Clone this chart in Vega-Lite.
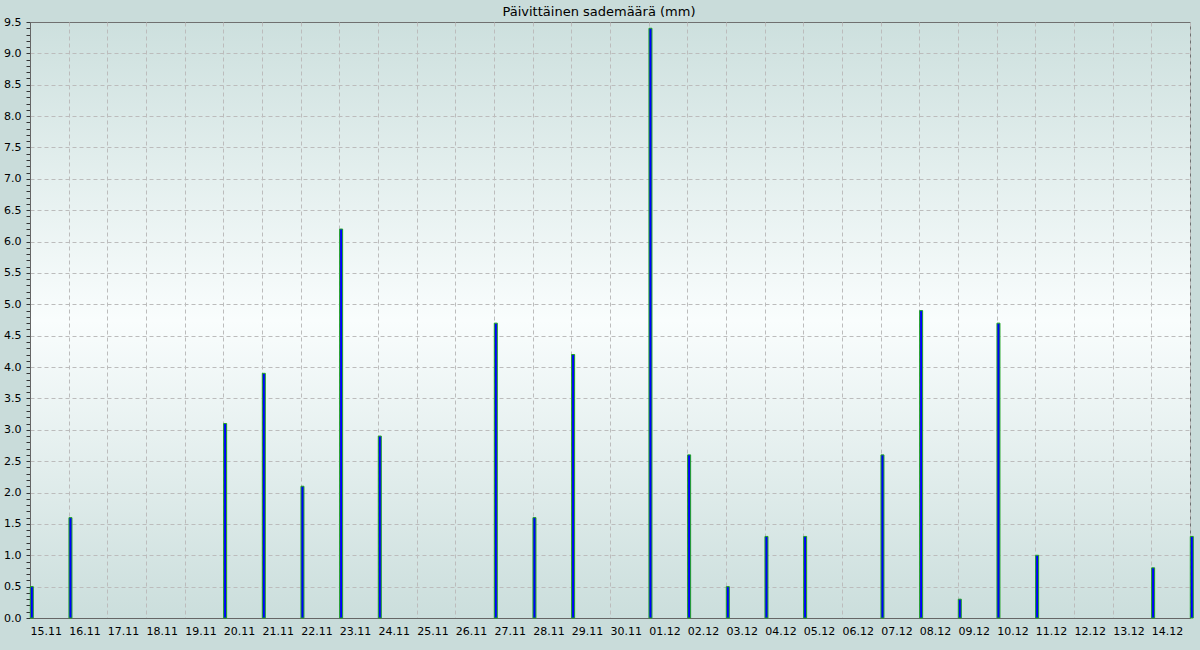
{
  "$schema": "https://vega.github.io/schema/vega-lite/v6.json",
  "width": 1160,
  "height": 596,
  "autosize": {"type": "none"},
  "padding": {"left": 30, "top": 22, "right": 10, "bottom": 32},
  "background": "#c9dcda",
  "view": {
    "fill": {"gradient": "linear", "x1": 0, "y1": 0, "x2": 0, "y2": 1,
      "stops": [
        {"offset": 0, "color": "#cde0de"},
        {"offset": 0.5, "color": "#f9fdfd"},
        {"offset": 1, "color": "#cbdedc"}
      ]},
    "stroke": "#707070",
    "strokeWidth": 1
  },
  "title": {
    "text": "Päivittäinen sademäärä (mm)",
    "font": "DejaVu Sans",
    "fontSize": 13,
    "fontWeight": "normal",
    "color": "#000000",
    "anchor": "middle",
    "dx": -11,
    "offset": -3
  },
  "data": {
    "values": [
      {"date": "2023-11-15", "mm": 0.5},
      {"date": "2023-11-16", "mm": 1.6},
      {"date": "2023-11-20", "mm": 3.1},
      {"date": "2023-11-21", "mm": 3.9},
      {"date": "2023-11-22", "mm": 2.1},
      {"date": "2023-11-23", "mm": 6.2},
      {"date": "2023-11-24", "mm": 2.9},
      {"date": "2023-11-27", "mm": 4.7},
      {"date": "2023-11-28", "mm": 1.6},
      {"date": "2023-11-29", "mm": 4.2},
      {"date": "2023-12-01", "mm": 9.4},
      {"date": "2023-12-02", "mm": 2.6},
      {"date": "2023-12-03", "mm": 0.5},
      {"date": "2023-12-04", "mm": 1.3},
      {"date": "2023-12-05", "mm": 1.3},
      {"date": "2023-12-07", "mm": 2.6},
      {"date": "2023-12-08", "mm": 4.9},
      {"date": "2023-12-09", "mm": 0.3},
      {"date": "2023-12-10", "mm": 4.7},
      {"date": "2023-12-11", "mm": 1.0},
      {"date": "2023-12-14", "mm": 0.8},
      {"date": "2023-12-15", "mm": 1.3}
    ]
  },
  "mark": {
    "type": "bar",
    "width": 3,
    "xOffset": 1.8,
    "fill": "#0000ff",
    "stroke": "#22a522",
    "strokeWidth": 1,
    "clip": false
  },
  "encoding": {
    "x": {
      "field": "date",
      "type": "temporal",
      "scale": {"type": "utc", "domain": ["2023-11-15", "2023-12-15"], "nice": false, "padding": 0},
      "axis": {
        "title": null,
        "tickCount": {"interval": "day", "step": 1},
        "format": "%d.%m",
        "labelExpr": "utcdate(datum.value) == 15 && utcmonth(datum.value) == 11 ? '' : datum.label",
        "labelAlign": "left",
        "labelDx": 1,
        "labelPadding": 7,
        "labelFont": "DejaVu Sans",
        "labelFontSize": 11,
        "labelColor": "#000000",
        "labelOverlap": false,
        "labelFlush": false,
        "ticks": false,
        "grid": true,
        "gridColor": "#bcbcbc",
        "gridDash": [4, 3],
        "gridWidth": 1,
        "domainColor": "#666666"
      }
    },
    "y": {
      "field": "mm",
      "type": "quantitative",
      "scale": {"domain": [0, 9.5], "nice": false, "zero": true},
      "axis": {
        "title": null,
        "values": [0,0.1,0.2,0.3,0.4,0.5,0.6,0.7,0.8,0.9,1.0,1.1,1.2,1.3,1.4,1.5,1.6,1.7,1.8,1.9,2.0,2.1,2.2,2.3,2.4,2.5,2.6,2.7,2.8,2.9,3.0,3.1,3.2,3.3,3.4,3.5,3.6,3.7,3.8,3.9,4.0,4.1,4.2,4.3,4.4,4.5,4.6,4.7,4.8,4.9,5.0,5.1,5.2,5.3,5.4,5.5,5.6,5.7,5.8,5.9,6.0,6.1,6.2,6.3,6.4,6.5,6.6,6.7,6.8,6.9,7.0,7.1,7.2,7.3,7.4,7.5,7.6,7.7,7.8,7.9,8.0,8.1,8.2,8.3,8.4,8.5,8.6,8.7,8.8,8.9,9.0,9.1,9.2,9.3,9.4,9.5],
        "format": ".1f",
        "labelExpr": "round(datum.value * 10) % 5 == 0 ? datum.label : ''",
        "labelFont": "DejaVu Sans",
        "labelFontSize": 11,
        "labelColor": "#000000",
        "labelPadding": 5,
        "labelOverlap": false,
        "labelFlush": false,
        "labelBaseline": "middle",
        "tickSize": 4,
        "tickColor": "#333333",
        "grid": true,
        "gridColor": "#bcbcbc",
        "gridDash": [4, 3],
        "gridOpacity": {"condition": {"test": "round(datum.value * 10) % 5 == 0 && datum.value > 0 && datum.value < 9.5", "value": 1}, "value": 0},
        "domainColor": "#666666"
      }
    }
  }
}
